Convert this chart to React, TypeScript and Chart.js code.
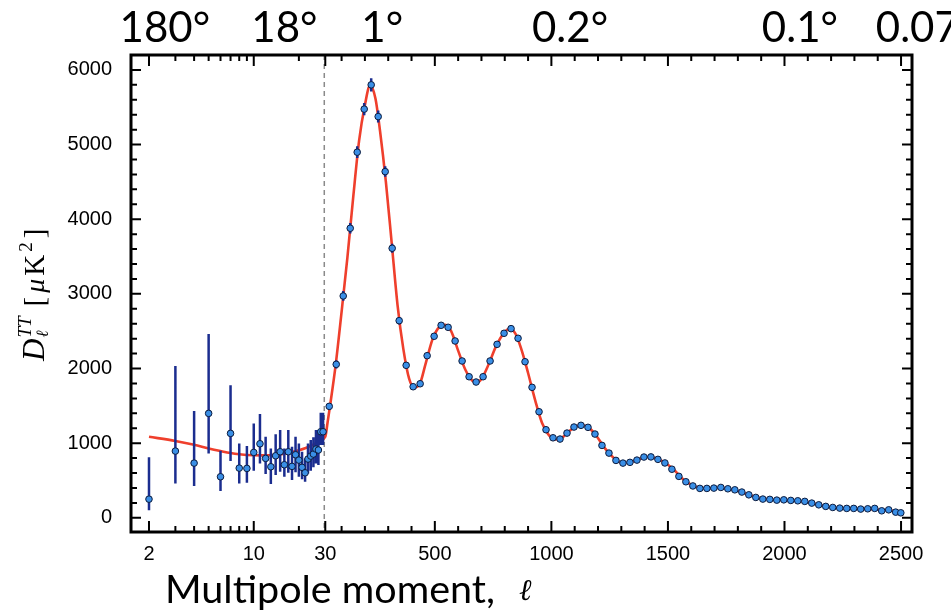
import React, { useEffect, useRef } from 'react';
import { Chart, registerables, LinearScale } from 'chart.js';

Chart.register(...registerables);

// ---------- data ----------
const lowL = [2, 3, 4, 5, 6, 7, 8, 9, 10, 11, 12, 13, 14, 15, 16, 17, 18, 19, 20, 21, 22, 23, 24, 25, 26, 27, 28, 29];
const lowD = [250, 894, 733, 1399, 550, 1131, 666, 662, 876, 992, 796, 684, 831, 885, 711, 885, 689, 845, 773, 676, 603, 787, 827, 854, 921, 908, 1153, 1153];
const lowLo = [103, 461, 425, 863, 358, 760, 461, 469, 630, 729, 586, 452, 572, 617, 550, 603, 505, 609, 550, 515, 483, 595, 630, 676, 729, 707, 975, 975];
const lowHi = [810, 2033, 1430, 2462, 898, 1775, 997, 961, 1265, 1390, 1086, 930, 1118, 1176, 930, 1176, 952, 1086, 997, 885, 796, 997, 1042, 1078, 1176, 1176, 1407, 1407];

const highL = [47, 77, 107, 137, 167, 197, 227, 257, 287, 317, 347, 377, 407, 437, 467, 497, 527, 557, 587, 617, 647, 677, 707, 737, 767, 797, 827, 857, 887, 917, 947, 977, 1007, 1037, 1067, 1097, 1127, 1157, 1187, 1217, 1247, 1277, 1307, 1337, 1367, 1397, 1427, 1457, 1487, 1517, 1547, 1577, 1607, 1637, 1667, 1697, 1727, 1757, 1787, 1817, 1847, 1877, 1907, 1937, 1967, 1997, 2027, 2057, 2087, 2117, 2147, 2177, 2207, 2237, 2267, 2297, 2327, 2357, 2387, 2417, 2447, 2477, 2499];
const highD = [1493, 2056, 2972, 3879, 4898, 5475, 5800, 5375, 4638, 3611, 2641, 2043, 1756, 1796, 2172, 2432, 2579, 2552, 2369, 2101, 1890, 1819, 1890, 2101, 2324, 2472, 2534, 2405, 2091, 1748, 1421, 1180, 1072, 1055, 1135, 1216, 1239, 1212, 1122, 970, 867, 769, 733, 743, 773, 814, 816, 783, 735, 651, 555, 483, 427, 394, 394, 398, 407, 389, 375, 345, 308, 273, 251, 247, 237, 241, 233, 228, 220, 197, 174, 153, 139, 130, 126, 126, 117, 121, 126, 94, 107, 76, 67];
const highErr = [45, 55, 65, 70, 78, 82, 88, 80, 70, 60, 50, 40, 35, 30];

const modelL = [2, 3, 4, 5, 6, 7, 8, 10, 12, 14, 16, 18, 20, 22, 24, 26, 28, 30, 40, 50, 75, 100, 125, 150, 175, 200, 222, 245, 265, 290, 315, 340, 365, 390, 412, 435, 460, 490, 520, 545, 570, 600, 630, 660, 680, 700, 730, 760, 790, 820, 845, 870, 900, 930, 960, 990, 1020, 1050, 1080, 1110, 1135, 1165, 1195, 1225, 1255, 1285, 1310, 1340, 1370, 1410, 1440, 1470, 1500, 1530, 1560, 1590, 1620, 1660, 1700, 1730, 1760, 1790, 1820, 1850, 1880, 1910, 1940, 1980, 2020, 2060, 2100, 2140, 2180, 2210, 2250, 2300, 2350, 2400, 2450, 2500];
const modelD = [1086, 1030, 978, 930, 895, 868, 852, 838, 836, 845, 860, 880, 905, 932, 965, 1000, 1040, 1085, 1280, 1490, 2060, 2760, 3490, 4300, 5050, 5530, 5790, 5620, 5180, 4500, 3680, 2850, 2260, 1860, 1745, 1790, 2060, 2390, 2560, 2585, 2500, 2240, 1990, 1840, 1815, 1860, 2050, 2280, 2450, 2535, 2470, 2270, 1940, 1580, 1270, 1105, 1050, 1085, 1170, 1230, 1240, 1195, 1090, 950, 840, 760, 735, 745, 780, 815, 805, 770, 710, 630, 530, 460, 415, 395, 398, 402, 390, 370, 340, 305, 275, 255, 245, 238, 233, 226, 210, 182, 152, 138, 128, 122, 118, 110, 98, 82];

const xTickValues = [2, 10, 30, 500, 1000, 1500, 2000, 2500];
const xMinorTicks = [3, 4, 5, 6, 7, 8, 9, 20, 100, 200, 300, 400, 600, 700, 800, 900, 1100, 1200, 1300, 1400, 1600, 1700, 1800, 1900, 2100, 2200, 2300, 2400];
const yTickValues = [0, 1000, 2000, 3000, 4000, 5000, 6000];
const yMinorStep = 200;

const topLabels = ['180°', '18°', '1°', '0.2°', '0.1°', '0.07°'];
const topLabelL = [2.55, 16, 274, 1080, 2066, 2607];

// ---------- hybrid log/linear multipole axis ----------
const L_SPLIT = 30;
const DECADE_UNITS = 643;
const X_MIN = 1.517;
const X_MAX = 2547;
const tf = (l: number) => (l <= L_SPLIT ? Math.log10(Math.max(l, 1e-3) / L_SPLIT) * DECADE_UNITS : l - L_SPLIT);
const itf = (u: number) => (u <= 0 ? L_SPLIT * Math.pow(10, u / DECADE_UNITS) : u + L_SPLIT);

class HybridScale extends LinearScale {
  static id = 'hybrid';
  static defaults = {};
  determineDataLimits() {
    (this as any).min = tf(X_MIN);
    (this as any).max = tf(X_MAX);
  }
  buildTicks() {
    return xTickValues.map((v) => ({ value: v }));
  }
  getPixelForValue(v: any) {
    if (v === null || v === undefined) return NaN;
    return super.getPixelForValue(tf(v));
  }
  getValueForPixel(p: number) {
    return itf(super.getValueForPixel(p) as number);
  }
}
Chart.register(HybridScale as any);

const RED = '#ef3f2c';
const ERR = '#1b2d8f';
const PT_FILL = '#3a8fe6';
const PT_EDGE = '#0c1a3c';

const decor = {
  id: 'decor',
  beforeDatasetsDraw(chart: any) {
    const { ctx, chartArea: a, scales } = chart;
    const px = scales.x.getPixelForValue(L_SPLIT) - 1;
    ctx.save();
    ctx.strokeStyle = '#8a8a8a';
    ctx.lineWidth = 1.5;
    ctx.setLineDash([5, 4]);
    ctx.beginPath();
    ctx.moveTo(px, a.top);
    ctx.lineTo(px, a.bottom);
    ctx.stroke();
    ctx.restore();
  },
  afterDatasetDraw(chart: any, args: any) {
    if (args.index !== 0) return;
    const { ctx, scales } = chart;
    const xs = scales.x, ys = scales.y;
    ctx.save();
    ctx.strokeStyle = ERR;
    ctx.lineWidth = 2.5;
    ctx.beginPath();
    lowL.forEach((l, i) => {
      const x = xs.getPixelForValue(l);
      ctx.moveTo(x, ys.getPixelForValue(lowLo[i]));
      ctx.lineTo(x, ys.getPixelForValue(lowHi[i]));
    });
    highErr.forEach((e, i) => {
      const x = xs.getPixelForValue(highL[i]);
      ctx.moveTo(x, ys.getPixelForValue(highD[i] - e));
      ctx.lineTo(x, ys.getPixelForValue(highD[i] + e));
    });
    ctx.stroke();
    ctx.restore();
  },
  afterDraw(chart: any) {
    const { ctx, chartArea: a, scales } = chart;
    const xs = scales.x, ys = scales.y;
    ctx.save();
    // ticks
    ctx.strokeStyle = '#000';
    ctx.lineWidth = 2;
    ctx.beginPath();
    const xt = (v: number, len: number) => {
      const p = xs.getPixelForValue(v);
      ctx.moveTo(p, a.bottom);
      ctx.lineTo(p, a.bottom - len);
      ctx.moveTo(p, a.top);
      ctx.lineTo(p, a.top + len);
    };
    xTickValues.forEach((v) => xt(v, 11));
    xMinorTicks.forEach((v) => xt(v, 6));
    const yt = (v: number, len: number) => {
      const p = ys.getPixelForValue(v);
      ctx.moveTo(a.left, p);
      ctx.lineTo(a.left + len, p);
      ctx.moveTo(a.right, p);
      ctx.lineTo(a.right - len, p);
    };
    for (let v = ys.min; v <= ys.max; v += 1) {
      if (v % yMinorStep === 0 && v > ys.min && v < ys.max) {
        yt(v, v % 1000 === 0 ? 10 : 6);
      }
    }
    ctx.stroke();
    // frame
    ctx.lineWidth = 3;
    ctx.strokeRect(a.left, a.top, a.right - a.left, a.bottom - a.top);

    // top angular labels
    ctx.fillStyle = '#000';
    ctx.font = '42px Lato';
    ctx.textAlign = 'center';
    ctx.textBaseline = 'alphabetic';
    topLabels.forEach((t, i) => {
      ctx.fillText(t, xs.getPixelForValue(topLabelL[i]), 42);
    });

    // x title
    ctx.textAlign = 'left';
    ctx.font = '39.5px Lato';
    ctx.fillText('Multipole moment,', 165, 603);
    ctx.font = 'italic 30px "DejaVu Serif"';
    ctx.fillText('ℓ', 519, 600);

    // y title (rotated)
    ctx.translate(44, 361);
    ctx.rotate(-Math.PI / 2);
    let x = 0;
    const put = (t: string, font: string, dy: number, adv = true) => {
      ctx.font = font;
      ctx.fillText(t, x, dy);
      const w = ctx.measureText(t).width;
      if (adv) x += w;
      return w;
    };
    put('D', 'italic 31px "Liberation Serif"', 0);
    x += 1;
    const x0 = x;
    const w1 = put('TT', 'italic 19px "Liberation Serif"', -13, false);
    put('ℓ', 'italic 17px "DejaVu Serif"', 4, false);
    x = x0 + w1 + 10;
    put('[', '29px "Liberation Serif"', 0);
    x += 4;
    put('μ', 'italic 28px "Liberation Serif"', 0);
    x += 3;
    put('K', '29px "Liberation Serif"', 0);
    x += 3;
    put('2', '19px "Liberation Serif"', -12);
    x += 4;
    put(']', '29px "Liberation Serif"', 0);
    ctx.restore();
  },
};

export default function App() {
  const ref = useRef<HTMLCanvasElement>(null);
  useEffect(() => {
    const chart = new Chart(ref.current as HTMLCanvasElement, {
      type: 'line',
      data: {
        datasets: [
          {
            label: 'model',
            data: modelL.map((l, i) => ({ x: l, y: modelD[i] })),
            borderColor: RED,
            borderWidth: 2.6,
            pointRadius: 0,
            cubicInterpolationMode: 'monotone',
            order: 3,
          },
          {
            label: 'low',
            data: lowL.map((l, i) => ({ x: l, y: lowD[i] })),
            showLine: false,
            pointRadius: 3.3,
            pointBorderWidth: 1,
            pointBackgroundColor: PT_FILL,
            pointBorderColor: PT_EDGE,
            order: 1,
          },
          {
            label: 'high',
            data: highL.map((l, i) => ({ x: l, y: highD[i] })),
            showLine: false,
            pointRadius: 3.3,
            pointBorderWidth: 1,
            pointBackgroundColor: PT_FILL,
            pointBorderColor: PT_EDGE,
            order: 2,
          },
        ] as any,
      },
      options: {
        responsive: false,
        animation: false,
        devicePixelRatio: 1,
        layout: { padding: { left: 31, right: 39, top: 55, bottom: 41 } },
        plugins: { legend: { display: false }, tooltip: { enabled: false } },
        scales: {
          x: {
            type: 'hybrid' as any,
            position: 'bottom',
            grid: { display: false },
            border: { display: false },
            afterFit: (s: any) => {
              s.height = 40;
            },
            ticks: {
              autoSkip: false,
              maxRotation: 0,
              minRotation: 0,
              padding: 2,
              color: '#000',
              font: { family: "'Liberation Sans', Arial, sans-serif", size: 20 },
              callback: (v: any) => String(v),
            },
          },
          y: {
            type: 'linear',
            min: -190,
            max: 6200,
            grid: { display: false },
            border: { display: false },
            afterFit: (s: any) => {
              s.width = 100;
            },
            afterBuildTicks: (s: any) => {
              s.ticks = yTickValues.map((v) => ({ value: v }));
            },
            ticks: {
              padding: 11,
              color: '#000',
              font: { family: "'Liberation Sans', Arial, sans-serif", size: 20 },
              callback: (v: any) => String(v),
            },
          },
        } as any,
      },
      plugins: [decor],
    });
    return () => chart.destroy();
  }, []);
  return (
    <div style={{ position: 'fixed', left: 0, top: 0, width: 951, height: 613, background: '#fff' }}>
      <canvas ref={ref} width={951} height={613} style={{ display: 'block', width: 951, height: 613 }} />
    </div>
  );
}
